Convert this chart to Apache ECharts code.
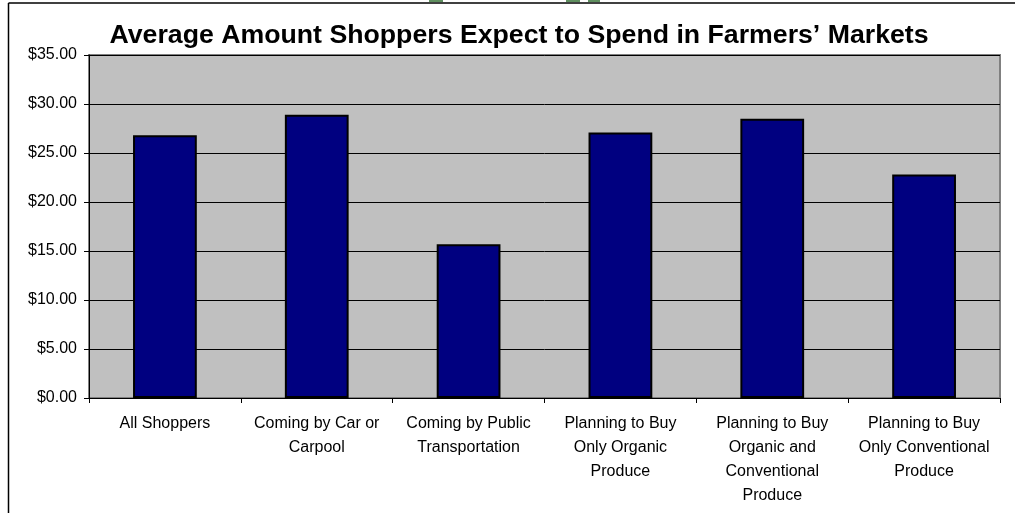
<!DOCTYPE html>
<html>
<head>
<meta charset="utf-8">
<script src="https://cdn.jsdelivr.net/npm/echarts@6/dist/echarts.min.js"></script>
<style>
  html, body { margin: 0; padding: 0; background: #ffffff; }
  #chart { width: 1015px; height: 513px; }
</style>
</head>
<body>
<div id="chart"></div>
<script>
// Shopper groups along the horizontal axis
const categories = [
  'All Shoppers',
  'Coming by Car or\nCarpool',
  'Coming by Public\nTransportation',
  'Planning to Buy\nOnly Organic\nProduce',
  'Planning to Buy\nOrganic and\nConventional\nProduce',
  'Planning to Buy\nOnly Conventional\nProduce'
];

// Average expected spend per group, in dollars
const avgSpend = [26.8, 28.9, 15.7, 27.1, 28.5, 22.8];

// Value axis range
const yMin = 0;
const yMax = 35;
const yStep = 5;

const titleText = 'Average Amount Shoppers Expect to Spend in Farmers\u2019 Markets';

const font = '"Liberation Sans", Arial, Helvetica, sans-serif';

const chart = echarts.init(document.getElementById('chart'), null, { renderer: 'canvas' });

chart.setOption({
  animation: false,
  backgroundColor: '#ffffff',
  title: {
    text: titleText,
    left: 514,
    top: 17,
    textAlign: 'center',
    textStyle: { fontFamily: font, fontSize: 26.7, fontWeight: 'bold', color: '#000000' }
  },
  grid: {
    left: 89,
    right: 15,
    top: 55,
    bottom: 115,
    show: true,
    backgroundColor: '#c0c0c0',
    borderColor: '#808080',
    borderWidth: 2
  },
  xAxis: {
    type: 'category',
    data: categories,
    boundaryGap: true,
    axisLine: { show: true, lineStyle: { color: '#000000', width: 1 } },
    axisTick: { show: true, length: 5, alignWithLabel: false, lineStyle: { color: '#000000' } },
    axisLabel: {
      interval: 0,
      margin: 14,
      color: '#000000',
      fontFamily: font,
      fontSize: 16,
      lineHeight: 24,
      align: 'center'
    },
    splitLine: { show: false }
  },
  yAxis: {
    type: 'value',
    min: yMin,
    max: yMax,
    interval: yStep,
    axisLine: { show: true, lineStyle: { color: '#000000', width: 1 } },
    axisTick: { show: true, length: 5, inside: false, lineStyle: { color: '#000000' } },
    axisLabel: {
      margin: 12,
      color: '#000000',
      fontFamily: font,
      fontSize: 16,
      formatter: v => '$' + v.toFixed(2)
    },
    splitLine: { show: true, lineStyle: { color: '#000000', width: 1 } }
  },
  series: [{
    type: 'bar',
    data: avgSpend,
    barCategoryGap: '58%',
    itemStyle: { color: '#000080', borderColor: '#000000', borderWidth: 2 }
  }],
  graphic: [
    // frame lines along the top and left edge of the page
    { type: 'line', shape: { x1: 8.5, y1: 3, x2: 1015, y2: 3 }, style: { stroke: '#000000', lineWidth: 1.5 }, silent: true },
    { type: 'line', shape: { x1: 8.5, y1: 3, x2: 8.5, y2: 513 }, style: { stroke: '#000000', lineWidth: 1.5 }, silent: true },
    // small green marks at the very top edge
    { type: 'rect', shape: { x: 429, y: 0, width: 14, height: 2 }, style: { fill: '#5f8f5f' }, silent: true },
    { type: 'rect', shape: { x: 566, y: 0, width: 14, height: 2 }, style: { fill: '#5f8f5f' }, silent: true },
    { type: 'rect', shape: { x: 588, y: 0, width: 12, height: 2 }, style: { fill: '#5f8f5f' }, silent: true }
  ]
});
</script>
</body>
</html>
